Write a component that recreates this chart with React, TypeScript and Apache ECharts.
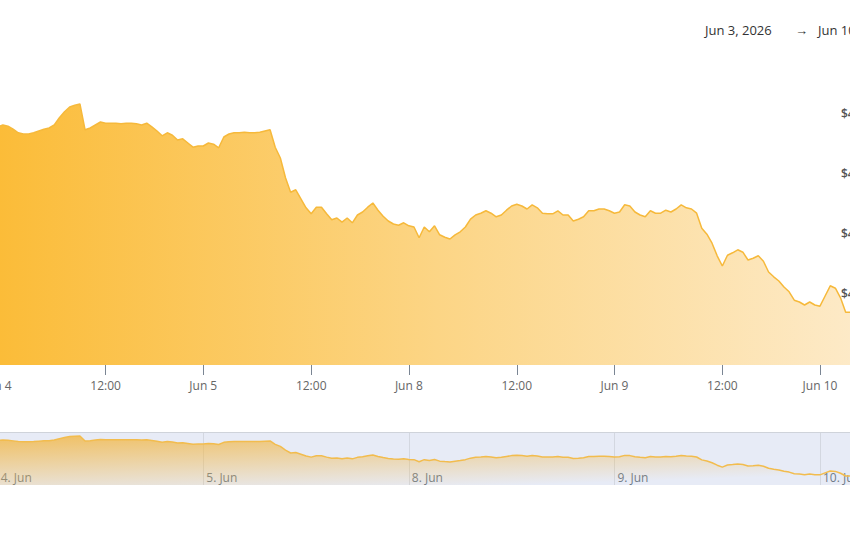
import React, { useEffect, useRef } from "react";
import * as echarts from "echarts";

// ---- data ----
const dayLabels = ["Jun 4", "Jun 5", "Jun 8", "Jun 9", "Jun 10"];
const navDayLabels = ["4. Jun", "5. Jun", "8. Jun", "9. Jun", "10. Jun"];
const noonLabel = "12:00";
const rangeFrom = "Jun 3, 2026";
const rangeTo = "Jun 10, 2026";
const yTickValues = [41, 42, 43, 44];

const jun4 = [
  43.77, 43.8, 43.78, 43.73, 43.67, 43.65, 43.65, 43.67, 43.7, 43.73,
  43.75, 43.8, 43.92, 44.02, 44.1, 44.13, 44.15, 43.72, 43.75, 43.8,
  43.85, 43.83, 43.83, 43.83, 43.82, 43.83, 43.83, 43.82, 43.8, 43.83,
  43.77, 43.7, 43.62, 43.67, 43.63, 43.55, 43.57, 43.5, 43.43, 43.45,
];
const jun5 = [
  43.45, 43.5, 43.48, 43.42, 43.6, 43.65, 43.67, 43.67, 43.68, 43.67,
  43.67, 43.68, 43.7, 43.72, 43.43, 43.25, 42.92, 42.68, 42.72, 42.57,
  42.42, 42.32, 42.43, 42.43, 42.32, 42.22, 42.25, 42.18, 42.25, 42.17,
  42.3, 42.35, 42.43, 42.5, 42.38, 42.28, 42.2, 42.15, 42.13, 42.17,
];
const jun8 = [
  42.12, 42.1, 41.92, 42.1, 42.02, 42.12, 41.97, 41.93, 41.9, 41.97,
  42.02, 42.1, 42.23, 42.3, 42.33, 42.37, 42.33, 42.27, 42.3, 42.38,
  42.45, 42.48, 42.45, 42.4, 42.47, 42.42, 42.33, 42.32, 42.32, 42.37,
  42.3, 42.3, 42.2, 42.23, 42.27, 42.37, 42.37, 42.4, 42.4, 42.37,
];
const jun9 = [
  42.33, 42.35, 42.47, 42.45, 42.35, 42.3, 42.27, 42.37, 42.33, 42.33,
  42.38, 42.35, 42.4, 42.47, 42.42, 42.4, 42.33, 42.08, 41.98, 41.83,
  41.62, 41.45, 41.63, 41.67, 41.72, 41.68, 41.55, 41.58, 41.62, 41.53,
  41.35, 41.27, 41.2, 41.1, 41.02, 40.88, 40.85, 40.8, 40.85, 40.8,
];
const jun10 = [
  40.78, 40.95, 41.12, 41.08, 40.92, 40.68, 40.68, 40.67, 40.7, 40.65,
  40.62, 40.63,
];

const dailySeries = [jun4, jun5, jun8, jun9, jun10];
const prices: number[] = dailySeries.flat();
const categories: string[] = dailySeries.flatMap((arr, d) =>
  arr.map((_, k) => `${dayLabels[d]} #${k}`)
);
// index of each day's first point and of the noon point within a day
const dayStart: number[] = [];
{
  let acc = 0;
  dailySeries.forEach((arr) => {
    dayStart.push(acc);
    acc += arr.length;
  });
}
const NOON_OFFSET = 21;

const isDayStart = (i: number) => dayStart.indexOf(i) >= 0;
const isNoon = (i: number) =>
  dayStart.some((s, d) => i - s === NOON_OFFSET && NOON_OFFSET < dailySeries[d].length);

export default function App() {
  const ref = useRef<HTMLDivElement>(null);

  useEffect(() => {
    if (!ref.current) return;
    const chart = echarts.init(ref.current, null, { renderer: "svg" });
    const font = "Open Sans";
    const gridLeft = -2.3;
    const gridRight = -26.5;

    const option: any = {
      animation: false,
      backgroundColor: "#ffffff",
      textStyle: { fontFamily: font },
      grid: [
        {
          left: gridLeft,
          right: gridRight,
          top: 53,
          bottom: 195,
          outerBoundsMode: "none",
          containLabel: false,
        },
        {
          left: gridLeft,
          right: gridRight,
          top: 432,
          height: 53,
          outerBoundsMode: "none",
          containLabel: false,
          show: true,
          backgroundColor: "#E7EBF6",
          borderWidth: 0,
        },
      ],
      xAxis: [
        {
          type: "category",
          gridIndex: 0,
          data: categories,
          boundaryGap: false,
          axisLine: { show: false },
          axisTick: {
            show: true,
            length: 10,
            interval: (i: number) => isDayStart(i) || isNoon(i),
            lineStyle: { color: "#7a8593", width: 1 },
          },
          axisLabel: {
            interval: (i: number) => isDayStart(i) || isNoon(i),
            formatter: (_v: string, i: number) => {
              const d = dayStart.indexOf(i);
              if (d >= 0) return dayLabels[d];
              return noonLabel;
            },
            color: "#666666",
            fontSize: 12,
            fontFamily: font,
            margin: 14,
          },
          splitLine: { show: false },
        },
        {
          type: "category",
          gridIndex: 1,
          data: categories,
          boundaryGap: false,
          axisLine: { show: false },
          axisTick: { show: false },
          axisLabel: {
            inside: true,
            interval: (i: number) => isDayStart(i),
            formatter: (_v: string, i: number) => {
              const d = dayStart.indexOf(i);
              return d >= 0 ? navDayLabels[d] : "";
            },
            align: "left",
            verticalAlign: "bottom",
            padding: [0, 0, 0, 3],
            margin: 2,
            color: "#707b88",
            fontSize: 12,
            fontFamily: font,
          },
          splitLine: {
            show: true,
            interval: (i: number) => isDayStart(i),
            lineStyle: { color: "#d3d7e0", width: 1 },
          },
        },
      ],
      yAxis: [
        {
          type: "value",
          gridIndex: 0,
          position: "right",
          min: 39.8,
          max: 45,
          interval: 0.2,
          axisLine: { show: false },
          axisTick: { show: false },
          splitLine: { show: false },
          axisLabel: {
            inside: true,
            align: "left",
            verticalAlign: "middle",
            margin: 35.5,
            color: "#555555",
            fontSize: 12,
            fontWeight: 600,
            fontFamily: font,
            showMinLabel: false,
            showMaxLabel: false,
            formatter: (v: number) => {
              const r = Math.round(v);
              if (Math.abs(v - r) < 1e-6 && yTickValues.indexOf(r) >= 0) return "$" + r;
              return "";
            },
          },
        },
        {
          type: "value",
          gridIndex: 1,
          min: 39.9,
          max: 44.5,
          show: false,
          splitLine: { show: false },
        },
      ],
      series: [
        {
          type: "line",
          xAxisIndex: 0,
          yAxisIndex: 0,
          data: prices,
          showSymbol: false,
          symbol: "none",
          lineStyle: { color: "#F6B93B", width: 1.5 },
          areaStyle: {
            origin: "start",
            opacity: 1,
            color: new echarts.graphic.LinearGradient(0, 0, 1, 0, [
              { offset: 0, color: "#FBBC38" },
              { offset: 0.5, color: "#FCD585" },
              { offset: 1, color: "#FDEBCB" },
            ]),
          },
          z: 2,
        },
        {
          type: "line",
          xAxisIndex: 1,
          yAxisIndex: 1,
          data: prices,
          showSymbol: false,
          symbol: "none",
          lineStyle: { color: "#F2BC4E", width: 1.5 },
          areaStyle: {
            origin: "start",
            opacity: 1,
            color: new echarts.graphic.LinearGradient(0, 0, 0.6, 1, [
              { offset: 0, color: "rgba(242,184,72,0.85)" },
              { offset: 1, color: "rgba(242,184,72,0.0)" },
            ]),
          },
          z: 2,
        },
      ],
      graphic: [
        {
          type: "line",
          shape: { x1: 0, y1: 432.5, x2: 850, y2: 432.5 },
          style: { stroke: "#cfd3da", lineWidth: 1 },
          z: 10,
        },
        {
          type: "text",
          x: 705,
          y: 30,
          style: {
            text: rangeFrom,
            fill: "#333333",
            fontSize: 13,
            fontFamily: font,
            verticalAlign: "middle",
          },
        },
        {
          type: "text",
          x: 795,
          y: 30,
          style: {
            text: "→",
            fill: "#333333",
            fontSize: 13,
            fontFamily: font,
            verticalAlign: "middle",
          },
        },
        {
          type: "text",
          x: 818,
          y: 30,
          style: {
            text: rangeTo,
            fill: "#333333",
            fontSize: 13,
            fontFamily: font,
            verticalAlign: "middle",
          },
        },
      ],
    };

    chart.setOption(option);
    return () => chart.dispose();
  }, []);

  return (
    <div
      style={{
        position: "fixed",
        left: 0,
        top: 0,
        width: 850,
        height: 560,
        overflow: "hidden",
        background: "#ffffff",
      }}
    >
      <div ref={ref} style={{ width: 850, height: 560 }} />
    </div>
  );
}
